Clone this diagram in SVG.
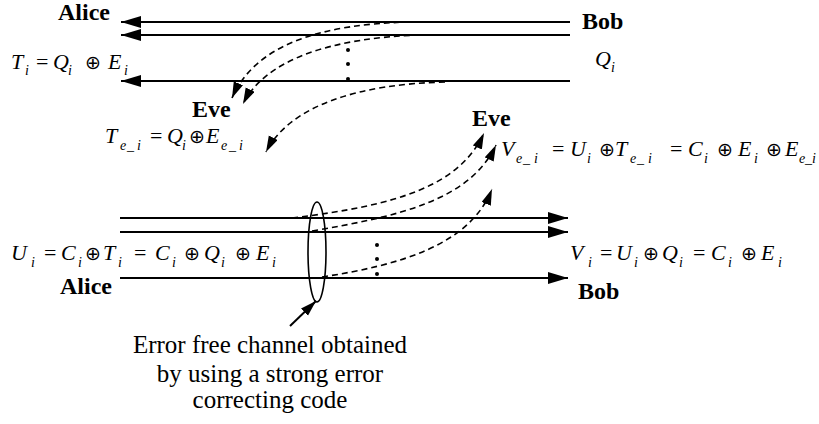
<svg xmlns="http://www.w3.org/2000/svg" width="819" height="424" viewBox="0 0 819 424">
<defs>
<style>
.ln{stroke:#000;stroke-width:2;fill:none}
.dl{stroke:#000;stroke-width:1.6;fill:none;stroke-dasharray:6 4}
.lbl{font-family:"Liberation Serif","Times New Roman",serif;font-weight:bold;font-size:24px;fill:#000}
.eq{font-family:"Liberation Serif","Times New Roman",serif;font-style:italic;font-size:22px;fill:#000}
.sb{font-size:14px}
.eqs{font-family:"Liberation Serif","Times New Roman",serif;font-size:22px;fill:#000}
.ox{font-family:"DejaVu Sans",sans-serif;font-size:19px}
.cap{font-family:"Liberation Serif","Times New Roman",serif;font-size:25px;fill:#000;text-anchor:middle}
</style>
<marker id="arr" markerUnits="userSpaceOnUse" markerWidth="22" markerHeight="14" refX="20" refY="6" orient="auto">
<path d="M0,0 L20,6 L0,12 z" fill="#000"/>
</marker>
<marker id="darr" markerUnits="userSpaceOnUse" markerWidth="18" markerHeight="12" refX="16" refY="5" orient="auto">
<path d="M0,0 L16,5 L0,10 z" fill="#000"/>
</marker>
</defs>
<rect width="819" height="424" fill="#fff"/>

<g id="connectors">
<line class="ln" x1="570" y1="22" x2="121" y2="22" marker-end="url(#arr)"/>
<line class="ln" x1="570" y1="35" x2="121" y2="35" marker-end="url(#arr)"/>
<line class="ln" x1="570" y1="81" x2="121" y2="81" marker-end="url(#arr)"/>
<path class="dl" d="M410,22 C320,24 255,45 232,98" marker-end="url(#darr)"/>
<path class="dl" d="M420,35 C330,38 265,60 243,104" marker-end="url(#darr)"/>
<path class="dl" d="M445,82 C360,84 290,105 266,152" marker-end="url(#darr)"/>
<line class="ln" x1="120" y1="218" x2="568" y2="218" marker-end="url(#arr)"/>
<line class="ln" x1="120" y1="232" x2="568" y2="232" marker-end="url(#arr)"/>
<line class="ln" x1="120" y1="278" x2="568" y2="278" marker-end="url(#arr)"/>
<path class="dl" d="M292,218 C400,205 460,185 484,133" marker-end="url(#darr)"/>
<path class="dl" d="M312,231 C400,216 470,200 496,145" marker-end="url(#darr)"/>
<path class="dl" d="M322,277 C400,265 470,245 492,189" marker-end="url(#darr)"/>
<line class="ln" x1="290" y1="326" x2="316" y2="301" stroke-width="1.6" marker-end="url(#darr)"/>
</g>

<g id="dots-top" fill="#000">
<circle cx="348" cy="50" r="2"/><circle cx="348" cy="64" r="2"/><circle cx="348" cy="79" r="2"/>
</g>
<g id="dots-bottom" fill="#000">
<circle cx="377" cy="245" r="2"/><circle cx="377" cy="259" r="2"/><circle cx="377" cy="274" r="2"/>
</g>

<g id="channel">
<ellipse cx="317" cy="252" rx="9" ry="50" fill="none" stroke="#000" stroke-width="1.6"/>
</g>

<g id="alice-top"><text class="lbl" x="58" y="20">Alice</text></g>
<g id="bob-top"><text class="lbl" x="582" y="29">Bob</text></g>
<g id="eve-top"><text class="lbl" x="192" y="117">Eve</text></g>
<g id="eve-bottom"><text class="lbl" x="472" y="126">Eve</text></g>
<g id="alice-bottom"><text class="lbl" x="60" y="294">Alice</text></g>
<g id="bob-bottom"><text class="lbl" x="578" y="299">Bob</text></g>

<g id="eq-Ti">
<text class="eq"><tspan x="11" y="69">T</tspan><tspan class="sb" x="25" y="75">i</tspan><tspan x="53" y="69">Q</tspan><tspan class="sb" x="68" y="75">i</tspan><tspan x="108" y="69">E</tspan><tspan class="sb" x="124" y="75">i</tspan></text>
<text class="eqs"><tspan x="36" y="69">=</tspan><tspan class="ox" x="85" y="69">⊕</tspan></text>
</g>
<g id="eq-Qi">
<text class="eq"><tspan x="595" y="66">Q</tspan><tspan class="sb" x="611" y="72">i</tspan></text>
</g>
<g id="eq-Tei">
<text class="eq"><tspan x="105" y="143">T</tspan><tspan class="sb" x="120" y="150">e</tspan><tspan class="sb" x="127" y="150">_</tspan><tspan class="sb" x="137" y="150">i</tspan><tspan x="167" y="143">Q</tspan><tspan class="sb" x="182" y="150">i</tspan><tspan x="206" y="143">E</tspan><tspan class="sb" x="221" y="150">e</tspan><tspan class="sb" x="229" y="150">_</tspan><tspan class="sb" x="239" y="150">i</tspan></text>
<text class="eqs"><tspan x="150" y="143">=</tspan><tspan class="ox" x="189" y="143">⊕</tspan></text>
</g>
<g id="eq-Vei">
<text class="eq"><tspan x="501" y="156">V</tspan><tspan class="sb" x="516" y="163">e</tspan><tspan class="sb" x="523" y="163">_</tspan><tspan class="sb" x="534" y="163">i</tspan><tspan x="570" y="156">U</tspan><tspan class="sb" x="587" y="163">i</tspan><tspan x="615" y="156">T</tspan><tspan class="sb" x="630" y="163">e</tspan><tspan class="sb" x="637" y="163">_</tspan><tspan class="sb" x="648" y="163">i</tspan><tspan x="688" y="156">C</tspan><tspan class="sb" x="704" y="163">i</tspan><tspan x="738" y="156">E</tspan><tspan class="sb" x="754" y="163">i</tspan><tspan x="785" y="156">E</tspan><tspan class="sb" x="799" y="163">e</tspan><tspan class="sb" x="805" y="163">_</tspan><tspan class="sb" x="812" y="163">i</tspan></text>
<text class="eqs"><tspan x="552" y="156">=</tspan><tspan class="ox" x="599" y="156">⊕</tspan><tspan x="670" y="156">=</tspan><tspan class="ox" x="717" y="156">⊕</tspan><tspan class="ox" x="766" y="156">⊕</tspan></text>
</g>
<g id="eq-Ui">
<text class="eq"><tspan x="11" y="260">U</tspan><tspan class="sb" x="31" y="267">i</tspan><tspan x="61" y="260">C</tspan><tspan class="sb" x="78" y="267">i</tspan><tspan x="103" y="260">T</tspan><tspan class="sb" x="118" y="267">i</tspan><tspan x="155" y="260">C</tspan><tspan class="sb" x="172" y="267">i</tspan><tspan x="204" y="260">Q</tspan><tspan class="sb" x="221" y="267">i</tspan><tspan x="256" y="260">E</tspan><tspan class="sb" x="272" y="267">i</tspan></text>
<text class="eqs"><tspan x="44" y="260">=</tspan><tspan class="ox" x="85" y="260">⊕</tspan><tspan x="134" y="260">=</tspan><tspan class="ox" x="184" y="260">⊕</tspan><tspan class="ox" x="235" y="260">⊕</tspan></text>
</g>
<g id="eq-Vi">
<text class="eq"><tspan x="570" y="260">V</tspan><tspan class="sb" x="588" y="267">i</tspan><tspan x="616" y="260">U</tspan><tspan class="sb" x="634" y="267">i</tspan><tspan x="662" y="260">Q</tspan><tspan class="sb" x="679" y="267">i</tspan><tspan x="711" y="260">C</tspan><tspan class="sb" x="728" y="267">i</tspan><tspan x="761" y="260">E</tspan><tspan class="sb" x="778" y="267">i</tspan></text>
<text class="eqs"><tspan x="600" y="260">=</tspan><tspan class="ox" x="643" y="260">⊕</tspan><tspan x="693" y="260">=</tspan><tspan class="ox" x="741" y="260">⊕</tspan></text>
</g>

<g id="caption">
<text class="cap" x="270" y="353">Error free channel obtained</text>
<text class="cap" x="270" y="382">by using a strong error</text>
<text class="cap" x="270" y="408">correcting code</text>
</g>
</svg>
